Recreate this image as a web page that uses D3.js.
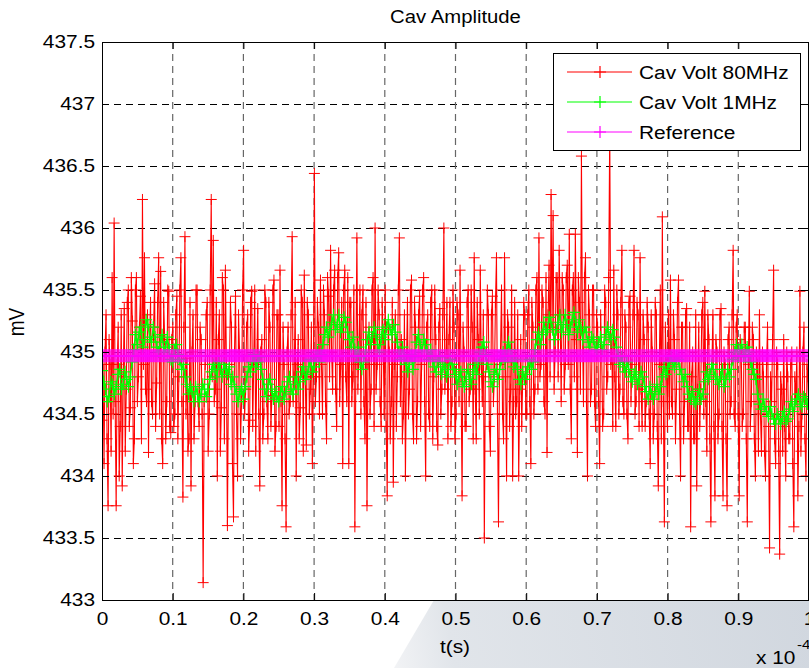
<!DOCTYPE html>
<html><head><meta charset="utf-8">
<script src="https://cdn.jsdelivr.net/npm/d3@7"></script>
<style>
html,body{margin:0;padding:0;background:#fff;}
svg{display:block;font-family:"Liberation Sans",Arial,Helvetica,sans-serif;}
</style></head><body>
<svg id="chart" width="809" height="668"></svg>
<script>
// ---------------- data ----------------
const titleText = "Cav Amplitude";
const xLabel = "t(s)";
const yLabel = "mV";
const xExponent = "-4";
const seriesNames = ["Cav Volt 80MHz", "Cav Volt 1MHz", "Reference"];
const seriesColors = ["#ff0000", "#00ff00", "#ff00ff"];
const xTicks = [0, 0.1, 0.2, 0.3, 0.4, 0.5, 0.6, 0.7, 0.8, 0.9, 1];
const yTicks = [433, 433.5, 434, 434.5, 435, 435.5, 436, 436.5, 437, 437.5];
const xDomain = [0, 1];
const yDomain = [433, 437.5];
const referenceLevel = 434.97;

// Cav Volt 80MHz (mV), evenly sampled over 0 .. 1e-4 s
const volt80MHz = [
434.45,434.9,434.1,435.0,435.3,434.3,433.76,435.1,434.9,434.2,435.6,434.5,436.04,434.6,433.76,434.9,435.2,434.0,434.4,435.3,433.92,434.8,435.35,434.2,434.7,435.4,435.5,434.4,434.55,435.6,435.25,434.1,434.3,435.5,435.6,434.6,434.8,435.2,435.45,434.3,436.23,434.9,435.76,434.7,434.6,435.3,434.19,435.1,435.4,434.6,434.5,435.2,435.55,434.4,434.75,435.4,435.76,434.5,435.65,434.3,434.1,435.4,435.1,434.3,434.6,435.5,435.49,434.4,434.35,435.1,
435.2,434.4,434.5,435.3,435.45,434.3,434.8,435.5,435.76,434.6,433.83,435.2,435.93,434.5,434.95,434.2,434.3,435.4,433.92,435.0,435.3,434.3,434.6,435.5,435.5,434.6,434.4,435.2,435.1,434.5,433.14,434.6,434.9,435.3,435.4,434.2,434.5,435.5,436.23,434.8,435.9,434.6,434.7,435.4,434.0,435.1,435.3,434.2,434.55,435.6,435.5,434.3,435.66,434.9,433.6,434.8,434.9,435.4,435.2,434.1,433.67,435.0,435.45,434.5,434.0,435.3,435.0,434.3,434.6,435.5,
435.82,434.5,434.7,435.2,435.3,434.2,434.45,435.4,435.49,434.4,434.9,435.5,434.2,434.9,435.35,434.5,433.92,435.0,435.1,434.3,434.5,435.5,435.4,434.6,434.3,435.4,435.2,434.4,434.65,435.5,435.58,434.2,434.4,435.3,435.3,434.4,435.66,434.6,433.76,435.2,434.9,434.3,433.59,435.0,435.2,434.5,434.6,435.3,435.93,434.6,434.8,435.4,434.0,434.9,435.1,434.3,434.55,435.5,435.4,434.2,435.62,434.8,434.25,435.4,435.3,434.5,434.7,435.2,434.1,434.8,
436.44,434.6,434.8,435.4,435.2,434.5,435.58,434.9,434.5,435.5,435.3,434.6,434.3,435.6,435.45,434.8,435.82,435.0,434.7,435.5,435.66,434.7,434.4,435.6,435.8,434.6,434.9,435.4,434.1,435.5,435.66,434.8,434.6,435.6,434.1,435.4,435.4,434.6,434.8,435.5,433.59,434.9,435.92,434.7,435.0,435.5,434.5,435.3,435.5,434.6,434.3,435.4,433.76,434.9,435.2,434.5,434.7,435.5,435.6,434.4,436.0,434.7,434.9,435.5,435.3,434.6,434.4,435.4,435.1,434.5,
435.5,434.4,433.84,435.2,435.0,434.3,434.6,435.4,433.95,434.9,435.3,434.4,434.8,435.5,435.92,434.6,435.1,434.3,434.5,435.3,434.0,434.9,435.4,434.5,434.7,435.5,435.58,434.5,434.3,435.4,435.2,434.3,434.6,435.3,435.45,434.4,434.9,435.5,435.6,434.6,434.0,435.2,435.3,434.5,434.4,435.4,435.5,434.3,434.8,435.5,435.1,434.4,434.25,435.2,435.35,434.5,434.7,435.3,436.0,434.7,434.9,435.4,434.3,435.1,435.4,434.4,434.6,435.5,435.2,434.3,
434.5,435.4,435.3,434.6,435.66,434.8,433.84,435.2,435.0,434.4,434.4,435.4,435.5,434.6,434.7,435.5,435.2,434.3,435.76,434.7,434.3,435.4,435.1,434.5,435.66,434.9,434.6,435.3,433.5,434.8,434.9,435.5,435.3,434.4,434.2,435.3,435.45,434.6,434.8,435.4,435.76,434.5,433.63,434.9,435.0,435.5,434.5,434.3,435.76,434.8,434.0,435.3,435.2,434.4,434.7,435.5,434.0,434.6,435.4,434.5,434.6,435.3,434.0,434.7,435.1,434.4,434.8,435.4,435.3,434.5,
434.5,435.3,435.5,434.6,434.1,435.4,435.2,434.5,434.7,435.5,435.6,434.7,435.92,434.8,434.9,435.5,435.4,434.6,434.5,435.6,434.19,435.3,435.7,434.8,436.27,435.2,436.1,434.7,435.0,435.6,435.6,434.8,435.82,435.3,434.6,435.6,435.5,434.7,434.9,435.6,435.7,434.9,435.95,434.7,434.3,435.5,435.6,434.8,435.95,435.1,434.19,435.6,435.4,434.7,436.58,435.2,434.6,435.6,435.76,434.6,434.0,435.5,435.3,434.6,434.7,435.5,435.5,434.6,434.4,435.3,
435.2,434.6,434.1,435.3,435.0,434.4,434.5,435.5,435.4,434.7,434.8,435.6,436.8,434.9,435.1,434.4,435.66,434.8,434.4,435.5,435.3,434.5,434.7,435.4,435.82,434.6,434.5,435.3,435.2,434.5,434.3,435.4,435.45,434.6,434.9,435.3,435.82,434.5,434.6,435.4,435.3,434.4,435.76,434.7,434.4,435.3,435.1,434.4,434.6,435.4,435.2,434.5,434.1,435.3,435.0,434.3,434.5,435.4,435.3,434.4,433.92,434.9,435.5,434.3,436.09,434.6,433.63,435.2,434.9,434.4,
435.3,434.5,435.58,434.6,434.5,435.3,435.1,434.3,434.7,435.4,435.58,434.5,434.0,435.2,435.2,434.3,434.6,435.3,435.35,434.4,434.4,435.2,433.59,434.8,435.0,434.3,434.3,435.3,433.92,434.7,435.2,434.4,434.7,435.3,435.4,434.5,435.49,434.6,434.2,435.3,435.1,434.3,433.63,434.9,435.3,434.4,433.84,435.1,435.0,434.3,434.5,435.3,435.35,434.4,433.84,435.0,434.9,434.3,433.76,435.1,435.2,434.5,434.6,435.3,435.82,434.5,434.4,435.2,435.3,434.5,
433.84,435.1,435.0,434.4,434.5,435.2,435.2,434.3,433.63,434.9,435.49,434.4,434.6,435.2,435.1,434.3,434.0,435.0,434.9,434.2,435.3,434.5,434.2,435.0,434.8,434.2,434.0,434.9,435.2,434.4,433.42,434.8,434.6,435.1,435.66,434.3,434.1,435.0,434.9,434.2,433.37,434.8,434.7,434.2,435.1,434.4,434.0,435.0,434.8,434.3,434.3,434.9,435.0,434.1,433.59,434.8,434.6,435.0,433.84,434.4,435.49,434.2,434.5,435.0,435.2,434.3,434.0,434.9,434.8,434.5
];

// Cav Volt 1MHz (mV), evenly sampled over 0 .. 1e-4 s
const volt1MHz = [
434.85,434.76,434.7,434.6,434.64,434.76,434.74,434.66,434.72,434.82,434.86,434.7,434.74,434.84,434.78,434.72,434.8,434.92,435.02,435.14,435.06,435.16,435.2,435.04,435.1,435.26,435.22,435.12,435.08,435.2,435.12,435.04,435.0,435.08,435.14,435.0,435.04,435.12,435.02,434.94,
434.92,435.02,435.06,434.98,434.94,434.86,434.9,434.8,434.74,434.66,434.72,434.68,434.6,434.72,434.66,434.6,434.66,434.74,434.7,434.64,434.7,434.78,434.84,434.9,434.86,434.8,434.92,434.86,434.8,434.9,434.86,434.82,434.88,434.74,434.8,434.72,434.66,434.6,434.68,434.7,
434.62,434.72,434.8,434.88,434.84,434.92,434.98,434.88,434.92,434.96,434.86,434.78,434.7,434.64,434.74,434.78,434.7,434.62,434.68,434.64,434.6,434.68,434.72,434.62,434.68,434.76,434.8,434.7,434.66,434.74,434.8,434.7,434.76,434.84,434.88,434.78,434.82,434.88,434.94,434.84,
434.88,434.96,435.0,434.92,434.98,435.06,435.14,435.2,435.12,435.18,435.24,435.3,435.18,435.22,435.3,435.16,435.2,435.28,435.24,435.16,435.1,435.04,435.12,435.02,434.96,435.04,434.92,434.86,434.92,435.0,435.1,435.16,435.06,435.12,435.2,435.14,435.06,435.0,435.12,435.18,
435.1,435.2,435.26,435.18,435.14,435.22,435.16,435.08,435.0,434.94,435.04,434.96,434.9,434.84,434.92,434.98,434.86,434.96,435.08,435.14,435.06,435.0,435.1,435.06,435.0,434.94,435.02,434.94,434.88,434.84,434.92,434.96,434.82,434.88,434.9,434.8,434.86,434.94,434.9,434.86,
434.82,434.74,434.8,434.84,434.76,434.72,434.8,434.86,434.78,434.74,434.84,434.9,434.82,434.92,435.0,435.04,435.08,434.98,434.9,434.84,434.76,434.72,434.82,434.86,434.78,434.86,434.94,435.0,434.92,435.02,435.08,435.02,434.96,434.88,434.94,434.86,434.78,434.74,434.84,434.78,
434.82,434.88,434.94,434.86,434.92,435.02,435.1,435.16,435.06,435.14,435.24,435.16,435.18,435.28,435.24,435.18,435.1,435.18,435.24,435.3,435.16,435.22,435.3,435.22,435.14,435.2,435.26,435.32,435.24,435.16,435.26,435.18,435.1,435.2,435.16,435.08,435.04,435.12,435.1,435.04,
435.02,435.08,435.12,435.02,435.06,435.14,435.2,435.12,435.1,435.18,435.12,435.04,434.96,434.9,434.96,434.88,434.84,434.92,434.86,434.8,434.76,434.82,434.84,434.74,434.78,434.84,434.8,434.72,434.68,434.62,434.72,434.66,434.62,434.68,434.74,434.66,434.72,434.8,434.88,434.82,
434.86,434.92,434.96,434.9,434.88,434.96,434.94,434.86,434.82,434.76,434.82,434.72,434.66,434.62,434.68,434.6,434.58,434.64,434.7,434.62,434.66,434.76,434.84,434.78,434.82,434.9,434.86,434.8,434.78,434.74,434.8,434.86,434.72,434.78,434.86,434.8,434.86,434.94,435.0,435.06,
434.96,435.02,435.06,434.96,434.98,435.04,435.0,434.92,434.86,434.82,434.78,434.66,434.58,434.54,434.62,434.56,434.52,434.48,434.56,434.5,434.46,434.42,434.5,434.46,434.42,434.48,434.52,434.44,434.46,434.54,434.6,434.52,434.58,434.62,434.66,434.58,434.56,434.64,434.62,434.58,
434.56
];

// ---------------- chart ----------------
const svg = d3.select("#chart");
const TS = 1.16; // horizontal text stretch of the original rendering
const FONT = '"Liberation Sans", Arial, Helvetica, sans-serif';

const x = d3.scaleLinear().domain(xDomain).range([102, 809]);
const y = d3.scaleLinear().domain(yDomain).range([600, 42]);
const fmt = d3.format("~g");

const t80 = d3.scaleLinear().domain([0, volt80MHz.length - 1]).range(xDomain);
const t1 = d3.scaleLinear().domain([0, volt1MHz.length - 1]).range(xDomain);
const pts80 = volt80MHz.map((v, i) => [t80(i), v]);
const pts1 = volt1MHz.map((v, i) => [t1(i), v]);
const ptsRef = volt80MHz.map((v, i) => [t80(i), referenceLevel]);

const defs = svg.append("defs");
const grad = defs.append("linearGradient").attr("id", "wm")
  .attr("gradientUnits", "userSpaceOnUse")
  .attr("x1", 390).attr("y1", 668).attr("x2", 809).attr("y2", 600);
grad.append("stop").attr("offset", 0).attr("stop-color", "#f3f4f6");
grad.append("stop").attr("offset", 0.15).attr("stop-color", "#e1e5ea");
grad.append("stop").attr("offset", 1).attr("stop-color", "#d1d7df");

defs.append("clipPath").attr("id", "plotclip").append("rect")
  .attr("x", 102).attr("y", 42).attr("width", 707).attr("height", 558);

svg.append("polygon")
  .attr("points", "394,668 434,600 809,600 809,668")
  .attr("fill", "url(#wm)");

svg.append("rect").attr("x", 102).attr("y", 42).attr("width", 707).attr("height", 558).attr("fill", "#fff");

// grid
const grid = svg.append("g");
grid.selectAll("line.h").data(yTicks.filter(d => d > yDomain[0] && d < yDomain[1])).join("line")
  .attr("x1", 102).attr("x2", 809)
  .attr("y1", d => y(d) + 0.5).attr("y2", d => y(d) + 0.5)
  .attr("stroke", "#000").attr("stroke-width", 1).attr("stroke-dasharray", "7,5");
grid.selectAll("line.v").data(xTicks.filter(d => d > xDomain[0] && d < xDomain[1])).join("line")
  .attr("x1", d => x(d)).attr("x2", d => x(d))
  .attr("y1", 42).attr("y2", 600)
  .attr("stroke", "#666").attr("stroke-width", 1.2).attr("stroke-dasharray", "7,5");

// series
const plot = svg.append("g").attr("clip-path", "url(#plotclip)");
const line = d3.line().x(d => x(d[0])).y(d => y(d[1]));
function crosses(pts, s) {
  return pts.map(d => {
    const px = x(d[0]), py = y(d[1]);
    return `M${px - s},${py}h${2 * s}M${px},${py - s}v${2 * s}`;
  }).join("");
}
function drawSeries(pts, color, w, mw, ms, op) {
  plot.append("path").attr("d", line(pts)).attr("fill", "none")
    .attr("stroke", color).attr("stroke-width", w).attr("stroke-opacity", op);
  plot.append("path").attr("d", crosses(pts, ms)).attr("fill", "none")
    .attr("stroke", color).attr("stroke-width", mw).attr("stroke-opacity", op);
}
drawSeries(pts80, seriesColors[0], 1.1, 1, 5.5, 1);
drawSeries(pts1, seriesColors[1], 1.4, 1.2, 6, 1);
drawSeries(ptsRef, seriesColors[2], 1.2, 1, 6.5, 0.92);

// axes
function styleAxis(g) {
  g.attr("font-size", 18).attr("font-family", FONT);
  g.select(".domain").attr("stroke", "#000");
  g.selectAll(".tick line").attr("stroke", "#000");
  g.selectAll(".tick text").attr("fill", "#000");
}
svg.append("g").attr("transform", "translate(0,600)")
  .call(d3.axisBottom(x).tickValues(xTicks).tickFormat(fmt).tickSizeInner(-7).tickSizeOuter(0).tickPadding(12))
  .call(styleAxis)
  .call(g => g.selectAll(".tick text").attr("transform", `scale(${TS},1)`));
svg.append("g").attr("transform", "translate(102,0)")
  .call(d3.axisLeft(y).tickValues(yTicks).tickFormat(fmt).tickSizeInner(-7).tickSizeOuter(0).tickPadding(6))
  .call(styleAxis)
  .call(g => g.selectAll(".tick text").attr("transform", `scale(${TS},1)`));
svg.append("g").attr("transform", "translate(0,42)")
  .call(d3.axisTop(x).tickValues(xTicks).tickFormat("").tickSizeInner(-7).tickSizeOuter(0))
  .call(styleAxis);
svg.append("g").attr("transform", "translate(808,0)")
  .call(d3.axisRight(y).tickValues(yTicks).tickFormat("").tickSizeInner(-7).tickSizeOuter(0))
  .call(styleAxis);

// legend
const lg = svg.append("g");
lg.append("rect").attr("x", 553.5).attr("y", 53.5).attr("width", 247).attr("height", 97)
  .attr("fill", "#fff").attr("stroke", "#000").attr("stroke-width", 1);
seriesNames.forEach((name, i) => {
  const cy = 72 + i * 30;
  lg.append("line").attr("x1", 567).attr("x2", 632).attr("y1", cy).attr("y2", cy)
    .attr("stroke", seriesColors[i]).attr("stroke-width", 1.2);
  lg.append("path").attr("d", `M${600 - 6},${cy}h12M600,${cy - 6}v12`)
    .attr("stroke", seriesColors[i]).attr("stroke-width", 1.2);
  lg.append("text").attr("transform", `translate(639,${cy + 7}) scale(${TS},1)`)
    .attr("font-size", 18).attr("font-family", FONT).attr("fill", "#000").text(name);
});

// labels
svg.append("text").attr("transform", `translate(455.5,23) scale(${TS},1)`)
  .attr("text-anchor", "middle").attr("font-size", 17.5).attr("font-family", FONT).text(titleText);
svg.append("text").attr("transform", `translate(455,653) scale(${TS},1)`)
  .attr("text-anchor", "middle").attr("font-size", 18).attr("font-family", FONT).text(xLabel);
svg.append("text").attr("transform", `translate(24,322) scale(${TS},1) rotate(-90)`)
  .attr("text-anchor", "middle").attr("font-size", 19).attr("font-family", FONT).text(yLabel);
svg.append("text").attr("transform", `translate(756,664) scale(${TS},1)`)
  .attr("font-size", 18).attr("font-family", FONT).text("x 10");
svg.append("text").attr("transform", `translate(797,649) scale(${TS},1)`)
  .attr("font-size", 13).attr("font-family", FONT).text(xExponent);
</script>
</body></html>
